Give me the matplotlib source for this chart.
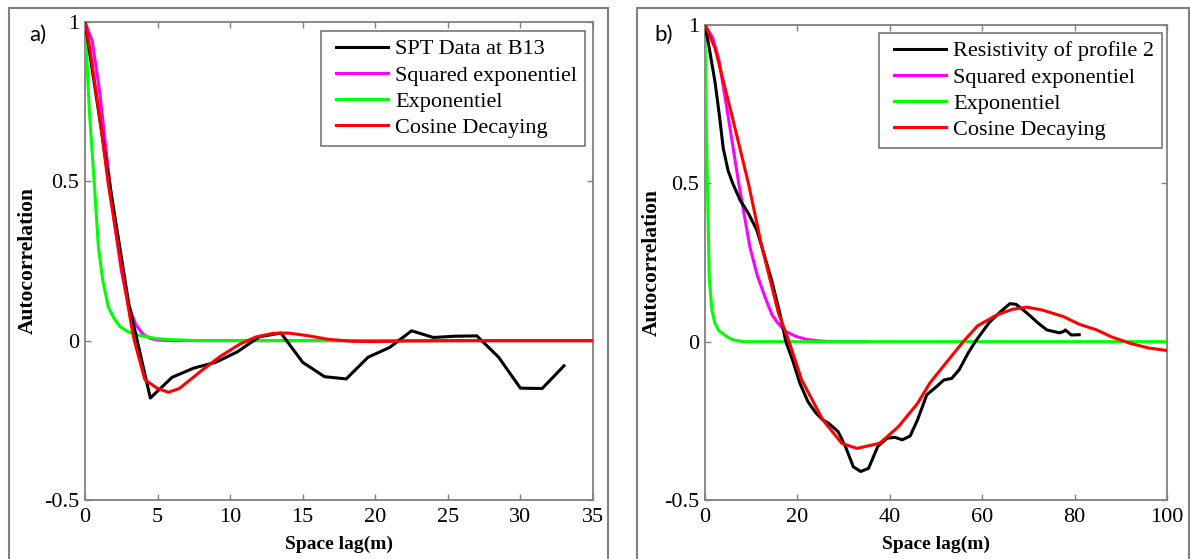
import numpy as np
import matplotlib
matplotlib.use("Agg")
import matplotlib.pyplot as plt
from matplotlib.patches import Rectangle
from matplotlib.legend_handler import HandlerLine2D

plt.rcParams['font.family'] = ['Liberation Serif', 'DejaVu Serif']
plt.rcParams['axes.unicode_minus'] = False

# ---------------- Panel a) data ----------------
spt_x = [0, 1.5, 3, 4.5, 6, 7.5, 9, 10.5, 12, 13.5, 15, 16.5, 18, 19.5, 21,
         22.5, 24, 25.5, 27, 28.5, 30, 31.5, 33]
spt_y = [1.0, 0.55, 0.12, -0.18, -0.115, -0.086, -0.068, -0.035, 0.012, 0.024,
         -0.068, -0.113, -0.12, -0.052, -0.021, 0.031, 0.01, 0.014, 0.015,
         -0.052, -0.149, -0.15, -0.079]

sqexp_a_x = [0, 0.5, 1.0, 1.5, 2.0, 2.5, 3.0, 3.5, 4.0, 4.5, 5.0, 6.0, 35]
sqexp_a_y = [1, 0.94, 0.785, 0.58, 0.38, 0.22, 0.11, 0.05, 0.02, 0.007, 0.002, 0.0, 0.0]

exp_a_x = [0, 0.3, 0.63, 0.92, 1.22, 1.61, 2.0, 2.41, 3.0, 3.8, 5.0, 6.0, 8.0, 35]
exp_a_y = [1, 0.72, 0.50, 0.295, 0.19, 0.105, 0.07, 0.044, 0.027, 0.016, 0.006, 0.003, 0.0, 0.0]

cos_a_x = [0, 0.34, 0.99, 1.61, 2.41, 3.21, 3.4, 4.13, 5.0, 5.75, 6.5, 7.24, 8.2,
           9.3, 10.7, 11.8, 12.96, 14.0, 15.3, 16.8, 18.4, 20.0, 22.0, 25.0, 35.0]
cos_a_y = [1, 0.917, 0.708, 0.489, 0.26, 0.044, 0.0, -0.123, -0.150, -0.162,
           -0.150, -0.123, -0.088, -0.050, -0.010, 0.012, 0.023, 0.024, 0.016,
           0.004, -0.002, -0.003, -0.001, 0.0, 0.0]

# ---------------- Panel b) data ----------------
res_x = [0, 0.93, 2.16, 3.1, 3.96, 5.0, 6.0, 7.6, 9.4, 11.2, 12.3, 14.4, 16.2,
         17.5, 19.0, 20.5, 22.3, 24, 25.5, 26.8, 28.8, 30.4, 32.1, 33.7, 35.4,
         37.4, 39.4, 41.1, 42.7, 44.4, 46, 48, 50.1, 51.7, 53.4, 55, 57, 58.5,
         61.5, 64, 66, 67.3, 68.9, 70.5, 72, 74, 76.7, 77.6, 78.0, 79.3, 81]
res_y = [1, 0.926, 0.821, 0.716, 0.61, 0.54, 0.50, 0.447, 0.405, 0.353, 0.30,
         0.195, 0.09, 0.0, -0.06, -0.13, -0.19, -0.225, -0.247, -0.258, -0.284,
         -0.331, -0.395, -0.41, -0.40, -0.331, -0.305, -0.302, -0.31, -0.298,
         -0.247, -0.168, -0.142, -0.121, -0.116, -0.089, -0.035, 0.0, 0.06,
         0.095, 0.12, 0.118, 0.10, 0.08, 0.06, 0.037, 0.028, 0.032, 0.037,
         0.021, 0.022]

sqexp_b_x = [0, 1.66, 3.0, 4.7, 6.0, 7.3, 8.5, 9.7, 11.3, 12.96, 14.5, 15.8,
             17.5, 19.8, 22, 24.8, 28, 35]
sqexp_b_y = [1, 0.96, 0.89, 0.74, 0.62, 0.50, 0.40, 0.30, 0.21, 0.142, 0.085,
             0.058, 0.032, 0.016, 0.007, 0.002, 0.0, 0.0]

exp_b_x = [0, 0.2, 0.5, 0.93, 1.5, 2.16, 3.0, 4.7, 6.0, 8.2, 100]
exp_b_y = [1, 0.75, 0.51, 0.2, 0.1, 0.058, 0.035, 0.016, 0.006, 0.0, 0.0]

cos_b_x = [0, 2.2, 5.8, 9.4, 12.3, 15.9, 18.2, 20.9, 25.5, 29.6, 32.9, 37.8,
           41.9, 46.0, 48.7, 52, 55.9, 59, 63.1, 66.5, 69.6, 73, 77.6, 81,
           84.8, 88, 92, 96, 100]
cos_b_y = [1, 0.926, 0.716, 0.50, 0.30, 0.09, 0.0, -0.12, -0.247, -0.321,
           -0.337, -0.321, -0.268, -0.195, -0.13, -0.07, 0.0, 0.05, 0.084,
           0.102, 0.109, 0.10, 0.079, 0.055, 0.037, 0.015, -0.005, -0.02, -0.028]

labels_a = ['SPT Data at B13', 'Squared exponentiel', 'Exponentiel', 'Cosine Decaying']
labels_b = ['Resistivity of profile 2', 'Squared exponentiel', 'Exponentiel', 'Cosine Decaying']

xticks_a = [0, 5, 10, 15, 20, 25, 30, 35]
xticks_b = [0, 20, 40, 60, 80, 100]
yticks = [-0.5, 0, 0.5, 1]
ytick_labels = ['-0.5', '0', '0.5', '1']

W, H = 1190, 559
fig = plt.figure(figsize=(W / 100, H / 100), dpi=100)

# frames around each panel
for (x0, x1) in [(9, 608), (637, 1189)]:
    fig.patches.append(Rectangle((x0 / W, -0.2), (x1 - x0) / W, 1.2 - 8 / H,
                                 transform=fig.transFigure, fill=False,
                                 edgecolor='#808080', linewidth=1.5))

GRAY = '#808080'
LW = 2.2


class LeadHandler(HandlerLine2D):
    """Line handle with blank space before the line."""
    def get_xdata(self, legend, xdescent, ydescent, width, height, fontsize):
        lead = 0.12 * width
        xd = np.array([-xdescent + lead, -xdescent + width])
        return xd, xd


def style_axes(ax, xlim, xticks):
    ax.set_xlim(*xlim)
    ax.set_ylim(-0.5, 1)
    ax.set_xticks(xticks)
    ax.set_xticklabels([str(t) for t in xticks])
    ax.set_yticks(yticks)
    ax.set_yticklabels(ytick_labels)
    for s in ax.spines.values():
        s.set_color(GRAY)
        s.set_linewidth(1.3)
    ax.tick_params(direction='in', length=4, width=1, color=GRAY,
                   top=True, right=True, labelsize=16)
    ax.tick_params(axis='x', pad=6)
    ax.tick_params(axis='y', pad=4)
    ax.set_xlabel('Space lag(m)', fontsize=14, fontweight='bold', labelpad=6)
    ax.set_ylabel('Autocorrelation', fontsize=15.5, fontweight='bold')


def draw(ax, data_x, data_y, sx, sy, ex, ey, cx, cy):
    h1, = ax.plot(data_x, data_y, color='black', lw=LW, zorder=4)
    h2, = ax.plot(sx, sy, color='#FF00FF', lw=LW, zorder=2)
    h3, = ax.plot(ex, ey, color='#00FF00', lw=LW, zorder=3)
    h4, = ax.plot(cx, cy, color='#FF0000', lw=LW, zorder=5)
    return [h1, h2, h3, h4]


def add_legend(ax, hs, labels, anchor):
    hm = {h: LeadHandler() for h in hs}
    leg = ax.legend(hs, labels, loc='upper right', bbox_to_anchor=anchor,
                    borderaxespad=0, fontsize=16, frameon=True, fancybox=False,
                    handlelength=2.7, handletextpad=0.3, labelspacing=0.25,
                    borderpad=0.35, handler_map=hm)
    leg.get_frame().set_edgecolor('#555555')
    leg.get_frame().set_linewidth(1.2)
    return leg


# Panel a
ax1 = fig.add_axes([85 / W, (H - 500) / H, 508 / W, 478 / H])
hs = draw(ax1, spt_x, spt_y, sqexp_a_x, sqexp_a_y, exp_a_x, exp_a_y, cos_a_x, cos_a_y)
style_axes(ax1, (0, 35), xticks_a)
add_legend(ax1, hs, labels_a, (0.984, 0.981))
ax1.yaxis.set_label_coords(-0.092, 0.5)

# Panel b
ax2 = fig.add_axes([705 / W, (H - 500) / H, 462 / W, 475 / H])
hs = draw(ax2, res_x, res_y, sqexp_b_x, sqexp_b_y, exp_b_x, exp_b_y, cos_b_x, cos_b_y)
style_axes(ax2, (0, 100), xticks_b)
add_legend(ax2, hs, labels_b, (0.989, 0.983))
ax2.yaxis.set_label_coords(-0.093, 0.5)

# panel letters
fig.text(29 / W, 1 - 35 / H, 'a)', fontsize=16, family=['Lato', 'DejaVu Sans'],
         va='center', ha='left')
fig.text(654 / W, 1 - 35 / H, 'b)', fontsize=16, family=['Lato', 'DejaVu Sans'],
         va='center', ha='left')

fig.savefig('out.png', dpi=100)
